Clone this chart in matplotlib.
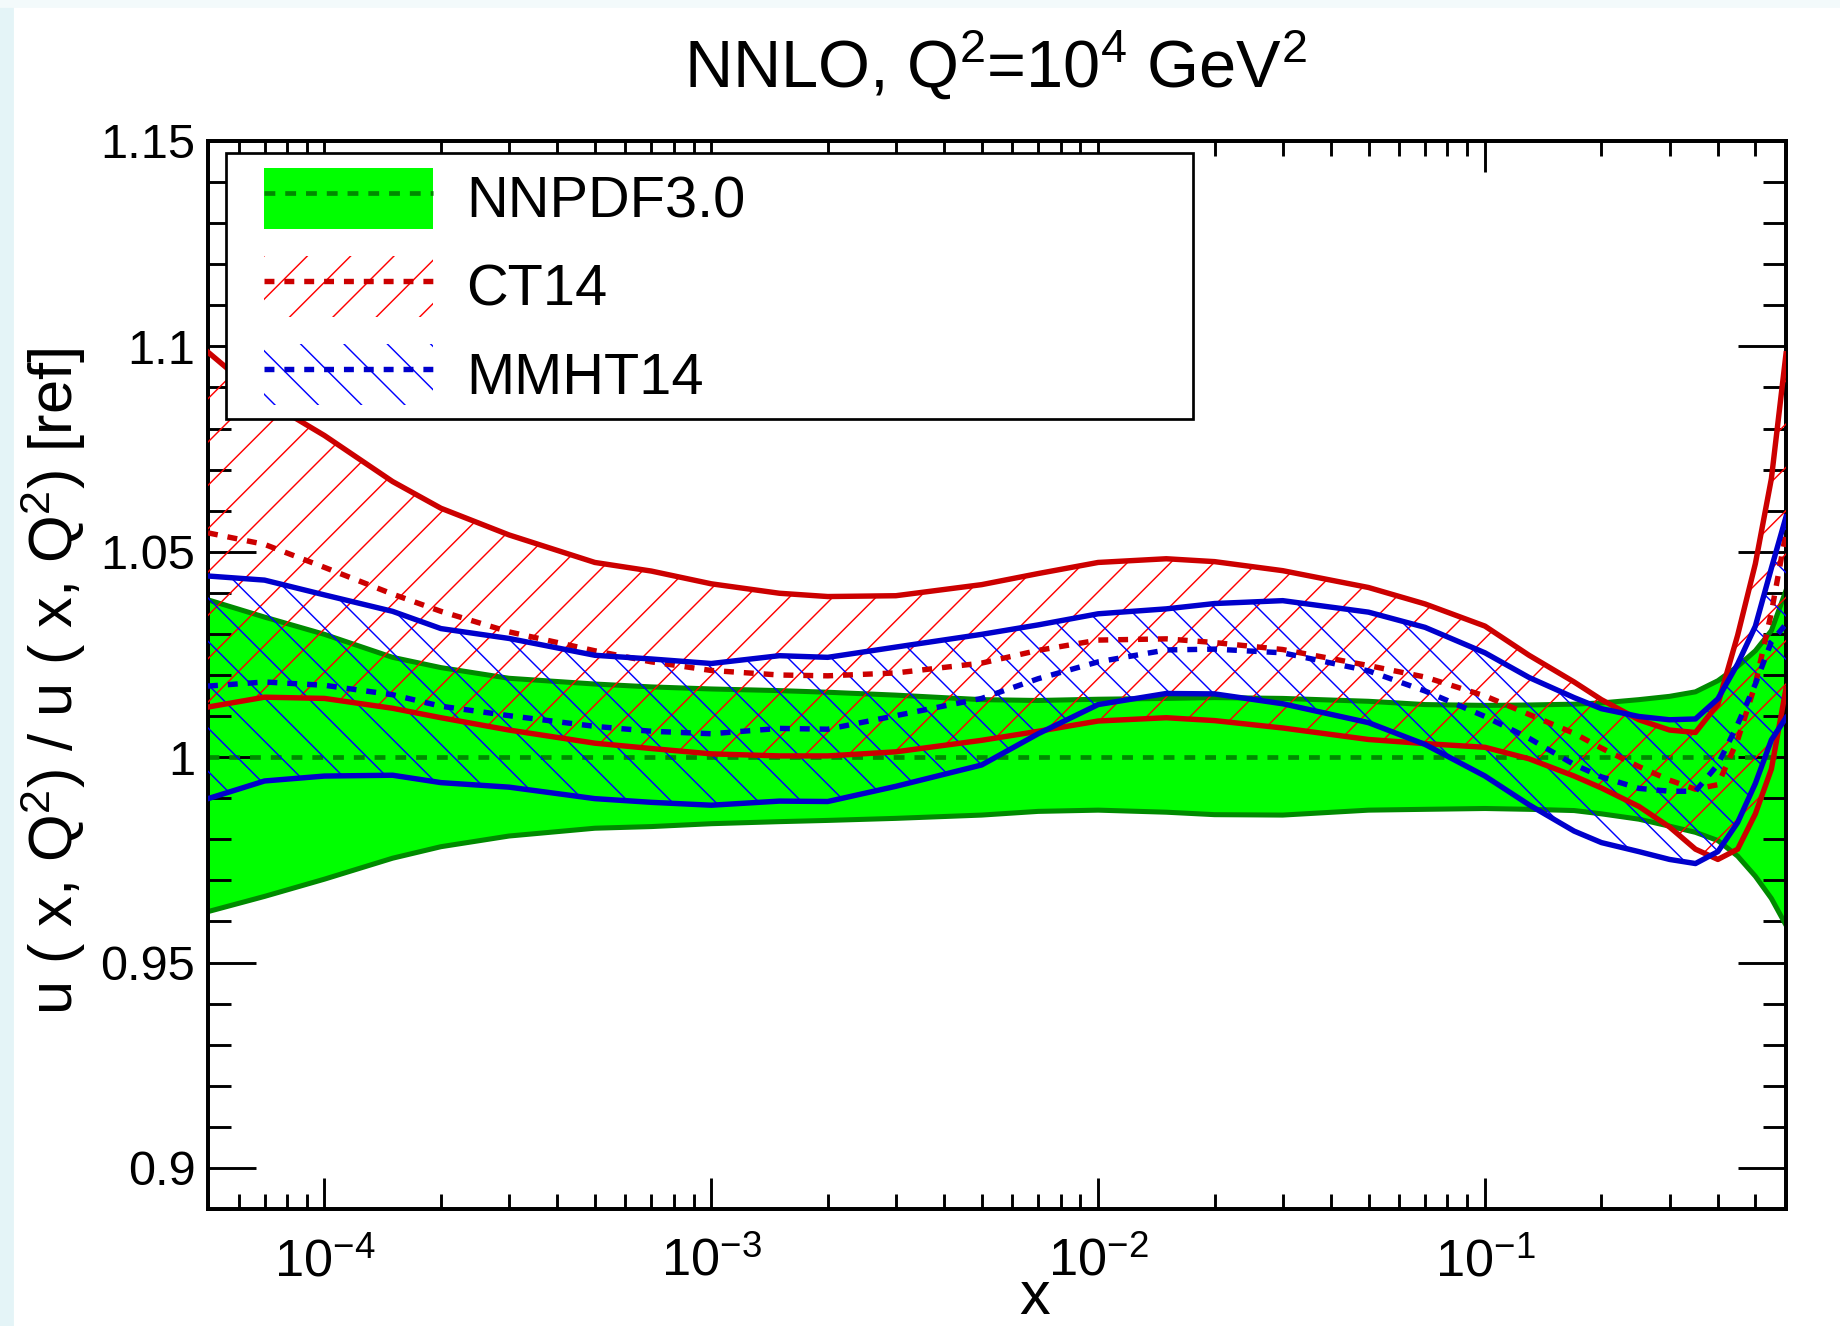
import matplotlib.pyplot as plt
from matplotlib.patches import Patch, Rectangle
from matplotlib.lines import Line2D
from matplotlib.ticker import FixedLocator, LogLocator, MultipleLocator, NullFormatter

plt.rcParams['font.family'] = 'Liberation Sans'
plt.rcParams['mathtext.fontset'] = 'custom'
plt.rcParams['mathtext.rm'] = 'Liberation Sans'
plt.rcParams['mathtext.it'] = 'Liberation Sans:italic'
plt.rcParams['mathtext.default'] = 'regular'
plt.rcParams['hatch.linewidth'] = 0.8
plt.rcParams['lines.scale_dashes'] = False

# x grid (values at these x)
x = [5e-5, 7e-5, 1e-4, 1.5e-4, 2e-4, 3e-4, 5e-4, 7e-4, 1e-3, 1.5e-3, 2e-3, 3e-3,
     5e-3, 7e-3, 1e-2, 1.5e-2, 2e-2, 3e-2, 5e-2, 7e-2, 0.1, 0.13, 0.17, 0.2,
     0.25, 0.3, 0.35, 0.4, 0.45, 0.5, 0.55, 0.6]

# NNPDF3.0 (reference, central = 1)
nnpdf_up = [1.0383, 1.0341, 1.0299, 1.0243, 1.0218, 1.0192, 1.0178, 1.0171, 1.0166, 1.0162, 1.0158, 1.0151,
            1.0140, 1.0138, 1.0141, 1.0143, 1.0145, 1.0143, 1.0136, 1.0128, 1.0126, 1.0127, 1.0129, 1.0132,
            1.0140, 1.0148, 1.0159, 1.0186, 1.0221, 1.0259, 1.0308, 1.0406]
nnpdf_lo = [0.9624, 0.9661, 0.9703, 0.9754, 0.9782, 0.9808, 0.9827, 0.9831, 0.9838, 0.9843, 0.9846, 0.9851,
            0.9859, 0.9868, 0.9871, 0.9866, 0.9860, 0.9859, 0.9871, 0.9873, 0.9875, 0.9873, 0.9870, 0.9862,
            0.9849, 0.9832, 0.9817, 0.9797, 0.9759, 0.9710, 0.9656, 0.9591]
nnpdf_c = [1.0] * len(x)

# CT14
ct14_up = [1.0986, 1.0870, 1.0783, 1.0671, 1.0606, 1.0541, 1.0474, 1.0453, 1.0422, 1.0399, 1.0391, 1.0393,
           1.0420, 1.0447, 1.0474, 1.0483, 1.0476, 1.0454, 1.0413, 1.0373, 1.0319, 1.0248, 1.0183, 1.0140,
           1.0091, 1.0066, 1.0060, 1.0129, 1.0297, 1.0471, 1.0678, 1.0982]
ct14_c = [1.0546, 1.0518, 1.0462, 1.0397, 1.0355, 1.0305, 1.0259, 1.0232, 1.0211, 1.0200, 1.0198, 1.0205,
          1.0229, 1.0260, 1.0285, 1.0288, 1.0279, 1.0262, 1.0223, 1.0195, 1.0149, 1.0104, 1.0058, 1.0022,
          0.9977, 0.9944, 0.9922, 0.9933, 1.0042, 1.0178, 1.0352, 1.0547]
ct14_lo = [1.0122, 1.0146, 1.0143, 1.0119, 1.0096, 1.0066, 1.0034, 1.0021, 1.0008, 1.0003, 1.0003, 1.0013,
           1.0041, 1.0063, 1.0088, 1.0096, 1.0089, 1.0071, 1.0043, 1.0033, 1.0024, 0.9996, 0.9954, 0.9925,
           0.9880, 0.9830, 0.9776, 0.9751, 0.9776, 0.9862, 0.9971, 1.0167]

# MMHT14
mmht_up = [1.0441, 1.0431, 1.0395, 1.0355, 1.0313, 1.0289, 1.0248, 1.0239, 1.0228, 1.0247, 1.0243, 1.0268,
           1.0299, 1.0322, 1.0349, 1.0361, 1.0374, 1.0381, 1.0353, 1.0316, 1.0254, 1.0194, 1.0145, 1.0118,
           1.0099, 1.0091, 1.0093, 1.0142, 1.0227, 1.0319, 1.0460, 1.0585]
mmht_c = [1.0173, 1.0183, 1.0175, 1.0152, 1.0124, 1.0101, 1.0075, 1.0063, 1.0057, 1.0070, 1.0068, 1.0101,
          1.0143, 1.0191, 1.0232, 1.0261, 1.0263, 1.0254, 1.0210, 1.0161, 1.0099, 1.0046, 0.9982, 0.9952,
          0.9924, 0.9917, 0.9917, 0.9982, 1.0080, 1.0178, 1.0281, 1.0324]
mmht_lo = [0.9899, 0.9942, 0.9954, 0.9956, 0.9938, 0.9927, 0.9899, 0.9890, 0.9883, 0.9893, 0.9892, 0.9929,
           0.9981, 1.0057, 1.0128, 1.0155, 1.0154, 1.0130, 1.0084, 1.0031, 0.9954, 0.9884, 0.9820, 0.9792,
           0.9770, 0.9751, 0.9741, 0.9770, 0.9841, 0.9936, 1.0042, 1.0096]

labels = ['NNPDF3.0', 'CT14', 'MMHT14']
yticks = [0.9, 0.95, 1.0, 1.05, 1.1, 1.15]
yticklabels = ['0.9', '0.95', '1', '1.05', '1.1', '1.15']
xticks = [1e-4, 1e-3, 1e-2, 1e-1]
xticklabels = ['$10^{-4}$', '$10^{-3}$', '$10^{-2}$', '$10^{-1}$']

green_fill = '#00ff00'
green_dark = '#008a00'
red = '#cc0000'
blue = '#0000cc'

W, H, DPI = 1840, 1326, 130
fig = plt.figure(figsize=(W / DPI, H / DPI), dpi=DPI)
fig.patches.append(Rectangle((0, 0), 13 / W, 1, transform=fig.transFigure,
                             color='#e4f4f7', zorder=0))
fig.patches.append(Rectangle((0, 1 - 7 / H), 1, 7 / H, transform=fig.transFigure,
                             color='#f3fafb', zorder=0))

ax = fig.add_axes([208 / W, 1 - 1209 / H, 1578 / W, 1068 / H])

# NNPDF band
ax.fill_between(x, nnpdf_lo, nnpdf_up, facecolor=green_fill, edgecolor='none', zorder=1)
ax.plot(x, nnpdf_up, color=green_dark, lw=2.8, zorder=2)
ax.plot(x, nnpdf_lo, color=green_dark, lw=2.8, zorder=2)
ax.plot(x, nnpdf_c, color=green_dark, lw=2.6, dashes=(6, 5.5), zorder=2)

# hatched bands
ax.fill_between(x, ct14_lo, ct14_up, facecolor='none', edgecolor='#ff0000',
                hatch='/', linewidth=0, zorder=3)
ax.fill_between(x, mmht_lo, mmht_up, facecolor='none', edgecolor='#0000ff',
                hatch='\\', linewidth=0, zorder=3)

ax.plot(x, ct14_up, color=red, lw=3.0, zorder=4)
ax.plot(x, ct14_lo, color=red, lw=3.0, zorder=4)
ax.plot(x, ct14_c, color=red, lw=3.0, dashes=(5.5, 5.5), zorder=4)
ax.plot(x, mmht_up, color=blue, lw=3.0, zorder=5)
ax.plot(x, mmht_lo, color=blue, lw=3.0, zorder=5)
ax.plot(x, mmht_c, color=blue, lw=3.0, dashes=(5.5, 5.5), zorder=5)

ax.set_xscale('log')
ax.set_xlim(5e-5, 0.6)
ax.set_ylim(0.89, 1.15)

ax.xaxis.set_major_locator(FixedLocator(xticks))
ax.set_xticklabels(xticklabels)
ax.xaxis.set_minor_locator(LogLocator(base=10, subs=range(2, 10), numticks=20))
ax.xaxis.set_minor_formatter(NullFormatter())
ax.yaxis.set_major_locator(FixedLocator(yticks))
ax.set_yticklabels(yticklabels)
ax.yaxis.set_minor_locator(MultipleLocator(0.01))

ax.tick_params(which='both', direction='in', top=True, right=True, width=1.6, colors='black')
ax.tick_params(axis='y', which='major', length=26.5, labelsize=27, pad=7)
ax.tick_params(axis='y', which='minor', length=12.7)
ax.tick_params(axis='x', which='major', length=17, labelsize=29, pad=16)
ax.tick_params(axis='x', which='minor', length=8.3)
for s in ax.spines.values():
    s.set_linewidth(2.2)

# legend frame and entries
ax.add_patch(Rectangle((18 / 1578, 1 - 278 / 1068), 967 / 1578, 266 / 1068,
                       transform=ax.transAxes, facecolor='white', edgecolor='black',
                       lw=1.5, zorder=10))
handles = [
    (Patch(facecolor=green_fill, edgecolor='none'),
     Line2D([], [], color=green_dark, lw=2.6, dashes=(6, 5.5))),
    (Patch(facecolor='none', edgecolor='#ff0000', hatch='/', lw=0),
     Line2D([], [], color=red, lw=3.0, dashes=(5.5, 5.5))),
    (Patch(facecolor='none', edgecolor='#0000ff', hatch='\\', lw=0),
     Line2D([], [], color=blue, lw=3.0, dashes=(5.5, 5.5))),
]
leg = ax.legend(handles, labels, loc='upper left', bbox_to_anchor=(56 / 1578, 1 - 27 / 1068),
                frameon=False, fontsize=32, borderpad=0, borderaxespad=0,
                handlelength=2.93, handleheight=1.25, handletextpad=0.57, labelspacing=0.45)
leg.set_zorder(11)

fig.text(995 / W, 1 - 88 / H, 'NNLO, Q$^2$=10$^4$ GeV$^2$', ha='center', va='baseline', fontsize=37)
fig.text(1035 / W, 1 - 1314 / H, 'x', ha='center', va='baseline', fontsize=34)
fig.text(53 / W, 1 - 681 / H, 'u ( x, Q$^2$) / u ( x, Q$^2$) [ref]', rotation=90,
         ha='center', va='center', fontsize=34)

fig.savefig('out.png', dpi=DPI)
